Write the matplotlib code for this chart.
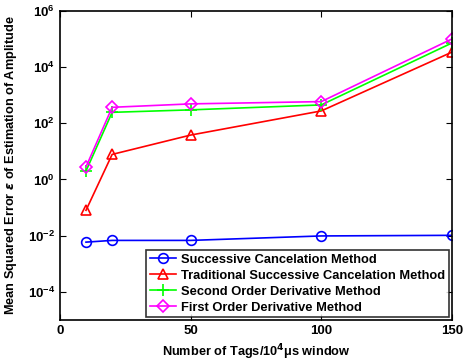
import matplotlib
matplotlib.use("Agg")
import matplotlib.pyplot as plt
from matplotlib.ticker import FixedLocator, NullLocator

plt.rcParams['font.family'] = ['Liberation Sans', 'DejaVu Sans']
plt.rcParams['font.weight'] = 'bold'

x = [10, 20, 50, 100, 150]
sc = [0.0059, 0.0068, 0.0068, 0.0098, 0.0103]
tsc = [0.08, 7.8, 38, 275, 34000]
sod = [2.0, 245, 300, 450, 72000]
fod = [2.8, 370, 490, 590, 100000]
labels = ["Successive Cancelation Method",
          "Traditional Successive Cancelation Method",
          "Second Order Derivative Method",
          "First Order Derivative Method"]
xticks = [0, 50, 100, 150]
yticks = [1e-4, 1e-2, 1e0, 1e2, 1e4, 1e6]

fig = plt.figure(figsize=(4.64, 3.62), dpi=100)
ax = fig.add_axes([0.129, 0.116, 0.845, 0.854])

ax.plot(x, sc, '-o', color='#0000ff', mfc='none', ms=7, lw=1.2, mew=1.2, label=labels[0])
ax.plot(x, tsc, '-^', color='#ff0000', mfc='none', ms=7.5, lw=1.2, mew=1.2, label=labels[1])
ax.plot(x, sod, '-+', color='#00ff00', ms=8, lw=1.2, mew=1.2, label=labels[2])
ax.plot(x, fod, '-D', color='#ff00ff', mfc='none', ms=6, lw=1.2, mew=1.2, label=labels[3])

ax.set_yscale('log')
ax.set_xlim(0, 150)
ax.set_ylim(1e-5, 1e6)
ax.xaxis.set_major_locator(FixedLocator(xticks))
ax.yaxis.set_major_locator(FixedLocator(yticks))
ax.yaxis.set_minor_locator(NullLocator())
ax.tick_params(direction='in', top=True, right=True, labelsize=9.5, length=4, width=0.8)
for lab in ax.get_xticklabels() + ax.get_yticklabels():
    lab.set_fontweight('bold')
for s in ax.spines.values():
    s.set_linewidth(1.2)

ax.set_xlabel("Number of Tags/10$^\\mathbf{4}$\u03bcs window", fontsize=9.2, fontweight='bold', labelpad=4)
ax.set_ylabel("Mean Squared Error $\\varepsilon$ of Estimation of Amplitude", fontsize=9.2, fontweight='bold', labelpad=6)

leg = ax.legend(loc='lower right', fontsize=9.3, frameon=True, fancybox=False,
                edgecolor='black', borderaxespad=0.2, handlelength=2.0,
                borderpad=0.3, labelspacing=0.3, handletextpad=0.4)
leg.get_frame().set_linewidth(1.2)
for t in leg.get_texts():
    t.set_fontweight('bold')

fig.savefig("out.png", dpi=100)
